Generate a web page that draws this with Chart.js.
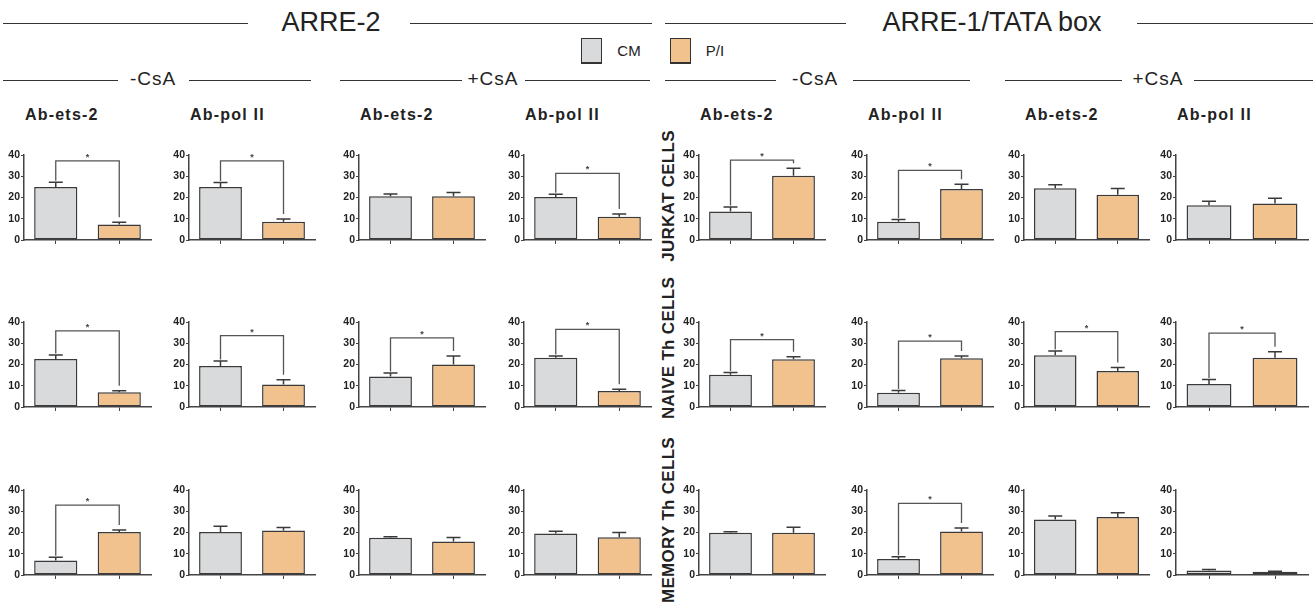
<!DOCTYPE html>
<html>
<head>
<meta charset="utf-8">
<script src="https://cdn.jsdelivr.net/npm/chart.js@4.4.0/dist/chart.umd.min.js"></script>
<style>
  body { margin: 0; background: #fff; width: 1315px; height: 606px; position: relative; overflow: hidden;
         font-family: "Liberation Sans", Arial, sans-serif; color: #222; }
  .t { position: absolute; white-space: nowrap; transform: translate(-50%, -50%); }
  .hl { position: absolute; height: 0; border-top: 1.5px solid #333; }
  .ttl { position: absolute; font-weight: bold; font-size: 16px; letter-spacing: 1.2px; color: #222; white-space: nowrap; }
  .vl { position: absolute; font-weight: bold; font-size: 17px; letter-spacing: 0.3px; white-space: nowrap;
        transform: translate(-50%, -50%) rotate(-90deg); }
  .box { position: absolute; width: 19px; height: 23px; border: 1.5px solid #333; border-bottom-width: 2.5px; }
  canvas { position: absolute; }
</style>
</head>
<body>
<script>
// panel titles, left to right
const panelTitles = ['Ab-ets-2', 'Ab-pol II', 'Ab-ets-2', 'Ab-pol II', 'Ab-ets-2', 'Ab-pol II', 'Ab-ets-2', 'Ab-pol II'];
const rowLabels = ['JURKAT CELLS', 'NAIVE Th CELLS', 'MEMORY Th CELLS'];
const groups = ['CM', 'P/I'];
const yTicks = [0, 10, 20, 30, 40];

// mean values, one row per cell type
const cmMean = [
  [25, 25, 20.6, 20.2, 13.4, 8.6, 24.4, 16.4],
  [22.6, 19.3, 14.3, 23.2, 15.2, 6.7, 24.3, 10.8],
  [6.8, 20.2, 17.5, 19.5, 19.9, 7.5, 26.1, 2.1]
];
const cmUpper = [
  [27.2, 27.1, 21.6, 21.5, 15.5, 9.6, 26, 18.2],
  [24.5, 21.6, 16, 24, 16.2, 7.8, 26.4, 13],
  [8.3, 23, 18, 20.6, 20.4, 8.6, 27.8, 2.6]
];
const piMean = [
  [7.3, 8.6, 20.6, 11, 30.2, 24, 21.3, 17.2],
  [7, 10.6, 20, 7.5, 22.5, 22.9, 17, 23.2],
  [20.2, 21, 15.8, 17.8, 19.9, 20.5, 27.3, 1.5]
];
const piUpper = [
  [8.3, 9.9, 22.4, 12.2, 33.8, 26.2, 24.2, 19.7],
  [7.6, 12.8, 24, 8.3, 23.6, 24, 18.6, 26],
  [21.2, 22.4, 17.6, 20, 22.5, 22.1, 29.3, 1.8]
];
// height of the significance bracket (null = none)
const bracketAt = [
  [37.2, 37.2, null, 31.4, 37.6, 32.8, null, null],
  [35.8, 33.6, 32.5, 36.5, 31.7, 31, 35.5, 34.8],
  [32.9, null, null, null, null, 33.7, null, null]
];

const colX = [24, 189, 359, 524, 699, 867, 1024, 1176];
const colW = [127, 126, 126, 127, 126, 126, 125, 132];
const rowTop = [155, 322, 490];
const plotH = 85;
const FONT = '"Liberation Sans", Arial, sans-serif';

function el(cls, css, text) {
  const d = document.createElement('div');
  d.className = cls;
  Object.assign(d.style, css);
  if (text) d.textContent = text;
  document.body.appendChild(d);
  return d;
}
function line(x1, x2, y) { el('hl', { left: x1 + 'px', top: y + 'px', width: (x2 - x1) + 'px' }); }

// top headers
line(3, 248, 23); line(410, 652, 23);
el('t', { left: '331px', top: '22px', fontSize: '27px' }, 'ARRE-2');
line(665, 846, 23); line(1137, 1313, 23);
el('t', { left: '992px', top: '22px', fontSize: '27px' }, 'ARRE-1/TATA box');

// legend
el('box', { left: '581px', top: '38px', background: '#d9dadc' });
el('t', { left: '629px', top: '50px', fontSize: '15px' }, groups[0]);
el('box', { left: '670px', top: '38px', background: '#f1c28d' });
el('t', { left: '715px', top: '50px', fontSize: '15px' }, groups[1]);

// -CsA / +CsA
const sub = [[3, 118, 189, 311, 153, '-CsA'], [340, 462, 525, 650, 493, '+CsA'],
             [665, 776, 853, 970, 815, '-CsA'], [1005, 1122, 1194, 1313, 1158, '+CsA']];
sub.forEach(s => {
  line(s[0], s[1], 80); line(s[2], s[3], 80);
  el('t', { left: s[4] + 'px', top: '79px', fontSize: '19px', letterSpacing: '1px' }, s[5]);
});

panelTitles.forEach((t, c) => el('ttl', { left: (colX[c] + 1) + 'px', top: '106px' }, t));
const vlY = [196, 348, 520];
rowLabels.forEach((t, r) => el('vl', { left: '669px', top: vlY[r] + 'px' }, t));

const errorBars = {
  id: 'errorBars',
  afterDatasetsDraw(chart, args, opts) {
    const ctx = chart.ctx, ys = chart.scales.y;
    const bars = chart.getDatasetMeta(0).data;
    ctx.save();
    ctx.strokeStyle = '#3a3a3a';
    ctx.lineWidth = 1.5;
    bars.forEach((b, i) => {
      const yt = ys.getPixelForValue(opts.upper[i]);
      ctx.beginPath();
      ctx.moveTo(b.x, b.y); ctx.lineTo(b.x, yt);
      ctx.moveTo(b.x - 7, yt); ctx.lineTo(b.x + 7, yt);
      ctx.stroke();
    });
    if (opts.bracket != null) {
      const yb = ys.getPixelForValue(opts.bracket);
      const y1 = ys.getPixelForValue(opts.upper[0]) - 1.5;
      const y2 = ys.getPixelForValue(opts.upper[1]) - 5;
      ctx.strokeStyle = '#555';
      ctx.lineWidth = 1.3;
      ctx.beginPath();
      ctx.moveTo(bars[0].x, y1); ctx.lineTo(bars[0].x, yb);
      ctx.lineTo(bars[1].x, yb); ctx.lineTo(bars[1].x, y2);
      ctx.stroke();
      ctx.fillStyle = '#444';
      ctx.font = 'bold 9px ' + FONT;
      ctx.textAlign = 'center';
      ctx.fillText('*', (bars[0].x + bars[1].x) / 2, yb - 1);
    }
    ctx.restore();
  }
};

for (let r = 0; r < 3; r++) {
  for (let c = 0; c < 8; c++) {
    const cv = document.createElement('canvas');
    const w = 28 + colW[c] + 3, h = 8 + plotH + 8;
    cv.width = w; cv.height = h;
    cv.style.left = (colX[c] - 28) + 'px';
    cv.style.top = (rowTop[r] - 8) + 'px';
    document.body.appendChild(cv);
    new Chart(cv, {
      type: 'bar',
      data: {
        labels: groups,
        datasets: [{
          data: [cmMean[r][c], piMean[r][c]],
          backgroundColor: ['#d9dadc', '#f1c28d'],
          borderColor: '#3a3a3a',
          borderWidth: 1.5,
          borderSkipped: false,
          categoryPercentage: 1,
          barPercentage: 0.68
        }]
      },
      options: {
        responsive: false,
        animation: false,
        devicePixelRatio: 1,
        layout: { padding: { top: 8, right: 3, left: 0, bottom: 0 } },
        plugins: {
          legend: { display: false },
          tooltip: { enabled: false },
          errorBars: { upper: [cmUpper[r][c], piUpper[r][c]], bracket: bracketAt[r][c] }
        },
        scales: {
          x: {
            grid: { drawOnChartArea: false, offset: false, tickLength: 4, color: '#444', lineWidth: 1 },
            border: { color: '#444', width: 1.5 },
            ticks: { display: false },
            afterFit: s => { s.height = 8; }
          },
          y: {
            min: 0, max: 40,
            afterBuildTicks: s => { s.ticks = yTicks.map(v => ({ value: v })); },
            grid: { drawOnChartArea: false, tickLength: 3, color: '#444', lineWidth: 1 },
            border: { color: '#444', width: 1.5 },
            ticks: { padding: 1, color: '#222', font: { family: FONT, size: 10.5, weight: 'bold' } },
            afterFit: s => { s.width = 28; }
          }
        }
      },
      plugins: [errorBars]
    });
  }
}
</script>
</body>
</html>
